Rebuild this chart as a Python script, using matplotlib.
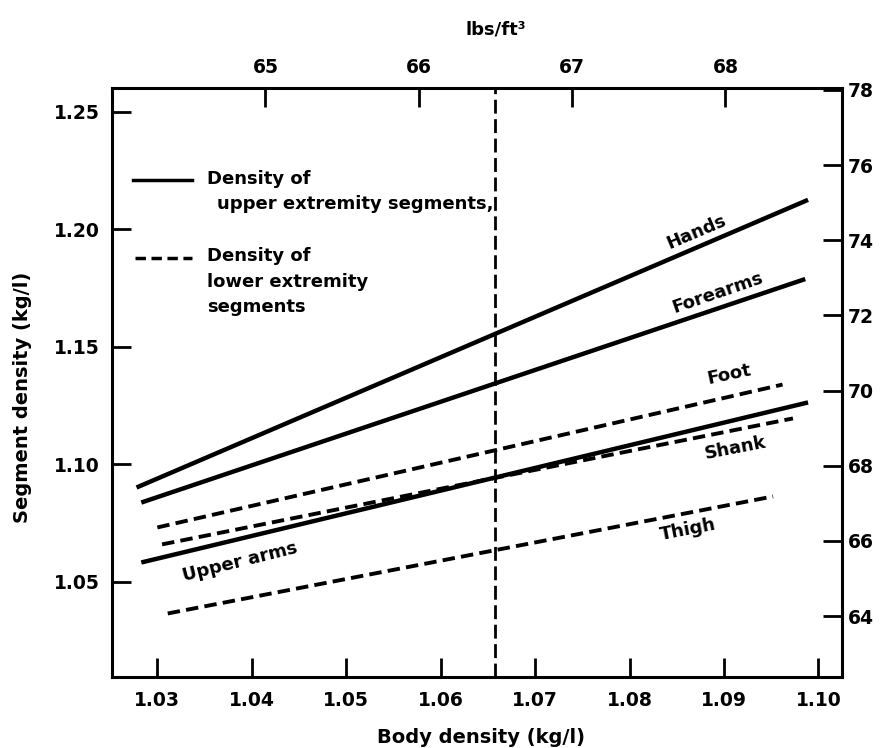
import matplotlib
matplotlib.use("Agg")
import matplotlib.pyplot as plt

# segment lines: (body density start/end, segment density start/end)
hands_x = [1.0278, 1.0989]
hands_y = [1.0902, 1.2126]
forearms_x = [1.0283, 1.0986]
forearms_y = [1.0838, 1.1789]
upperarms_x = [1.0283, 1.0989]
upperarms_y = [1.0583, 1.1264]
foot_x = [1.0300, 1.0962]
foot_y = [1.0732, 1.1340]
shank_x = [1.0305, 1.0973]
shank_y = [1.0660, 1.1196]
thigh_x = [1.0311, 1.0952]
thigh_y = [1.0366, 1.0864]

ref_body_density = 1.0657

x_ticks = [1.03, 1.04, 1.05, 1.06, 1.07, 1.08, 1.09, 1.10]
y_ticks = [1.05, 1.10, 1.15, 1.20, 1.25]
lbs_top_ticks = [65, 66, 67, 68]
lbs_right_ticks = [64, 66, 68, 70, 72, 74, 76, 78]

plt.rcParams['font.family'] = 'DejaVu Sans'
plt.rcParams['font.weight'] = 'bold'
plt.rcParams['axes.labelweight'] = 'bold'

fig = plt.figure(figsize=(8.82, 7.48), dpi=100)
ax = fig.add_axes([0.127, 0.095, 0.8277, 0.7874])

lw = 3.2
ax.plot(hands_x, hands_y, color='black', lw=lw, solid_capstyle='butt')
ax.plot(forearms_x, forearms_y, color='black', lw=lw, solid_capstyle='butt')
ax.plot(upperarms_x, upperarms_y, color='black', lw=lw, solid_capstyle='butt')
for xs, ys in [(foot_x, foot_y), (shank_x, shank_y), (thigh_x, thigh_y)]:
    ax.plot(xs, ys, color='black', lw=2.8, dashes=(3.2, 1.6))
ax.axvline(ref_body_density, color='black', lw=2, dashes=(5, 2))

ax.set_xlim(1.0252, 1.1025)
ax.set_ylim(1.0096, 1.2602)
ax.set_xticks(x_ticks)
ax.set_xticklabels(['%.2f' % v for v in x_ticks])
ax.set_yticks(y_ticks)
ax.set_yticklabels(['%.2f' % v for v in y_ticks])
ax.tick_params(direction='in', length=14, width=2, labelsize=13.5)
ax.tick_params(axis='y', pad=9)
ax.tick_params(axis='x', pad=10)
for s in ax.spines.values():
    s.set_linewidth(2.2)

ax.set_xlabel('Body density (kg/l)', fontsize=14, va='center')
ax.xaxis.set_label_coords(0.505, -0.1036)
ax.set_ylabel('Segment density (kg/l)', fontsize=14, va='center')
ax.yaxis.set_label_coords(-0.123, 0.474)

# segment labels
lab = dict(fontsize=13, ha='center', va='center', rotation_mode='anchor')
ax.text(1.0871, 1.1989, 'Hands', rotation=23, **lab)
ax.text(1.0893, 1.1730, 'Forearms', rotation=19, **lab)
ax.text(1.0906, 1.1381, 'Foot', rotation=12, **lab)
ax.text(1.0912, 1.1070, 'Shank', rotation=11, **lab)
ax.text(1.0862, 1.0721, 'Thigh', rotation=11, **lab)
ax.text(1.0388, 1.0585, 'Upper arms', rotation=14, **lab)

# legend drawn by hand
tr = ax.transAxes
ax.plot([0.029, 0.110], [0.844, 0.844], transform=tr, color='black', lw=2.5)
ax.plot([0.031, 0.110], [0.712, 0.712], transform=tr, color='black', lw=2.5, dashes=(3, 1.6))
ax.text(0.130, 0.846, 'Density of', transform=tr, fontsize=13, va='center')
ax.text(0.144, 0.803, 'upper extremity segments,', transform=tr, fontsize=13, va='center')
ax.text(0.130, 0.715, 'Density of', transform=tr, fontsize=13, va='center')
ax.text(0.130, 0.671, 'lower extremity', transform=tr, fontsize=13, va='center')
ax.text(0.130, 0.628, 'segments', transform=tr, fontsize=13, va='center')

# right axis in lbs/ft3
ax2 = ax.twinx()
ax2.set_ylim(62.38, 78.05)
ax2.set_yticks(lbs_right_ticks)
ax2.tick_params(direction='in', length=14, width=2, labelsize=13.5, pad=4)

# top axis in lbs/ft3
ax3 = ax.twiny()
ax3.set_xlim(64.0, 68.76)
ax3.set_xticks(lbs_top_ticks)
ax3.tick_params(direction='in', length=14, width=2, labelsize=13.5, pad=8)
ax3.set_xlabel('lbs/ft³', fontsize=13, va='center')
ax3.xaxis.set_label_coords(0.526, 1.0985)

fig.savefig('out.png', dpi=100)
